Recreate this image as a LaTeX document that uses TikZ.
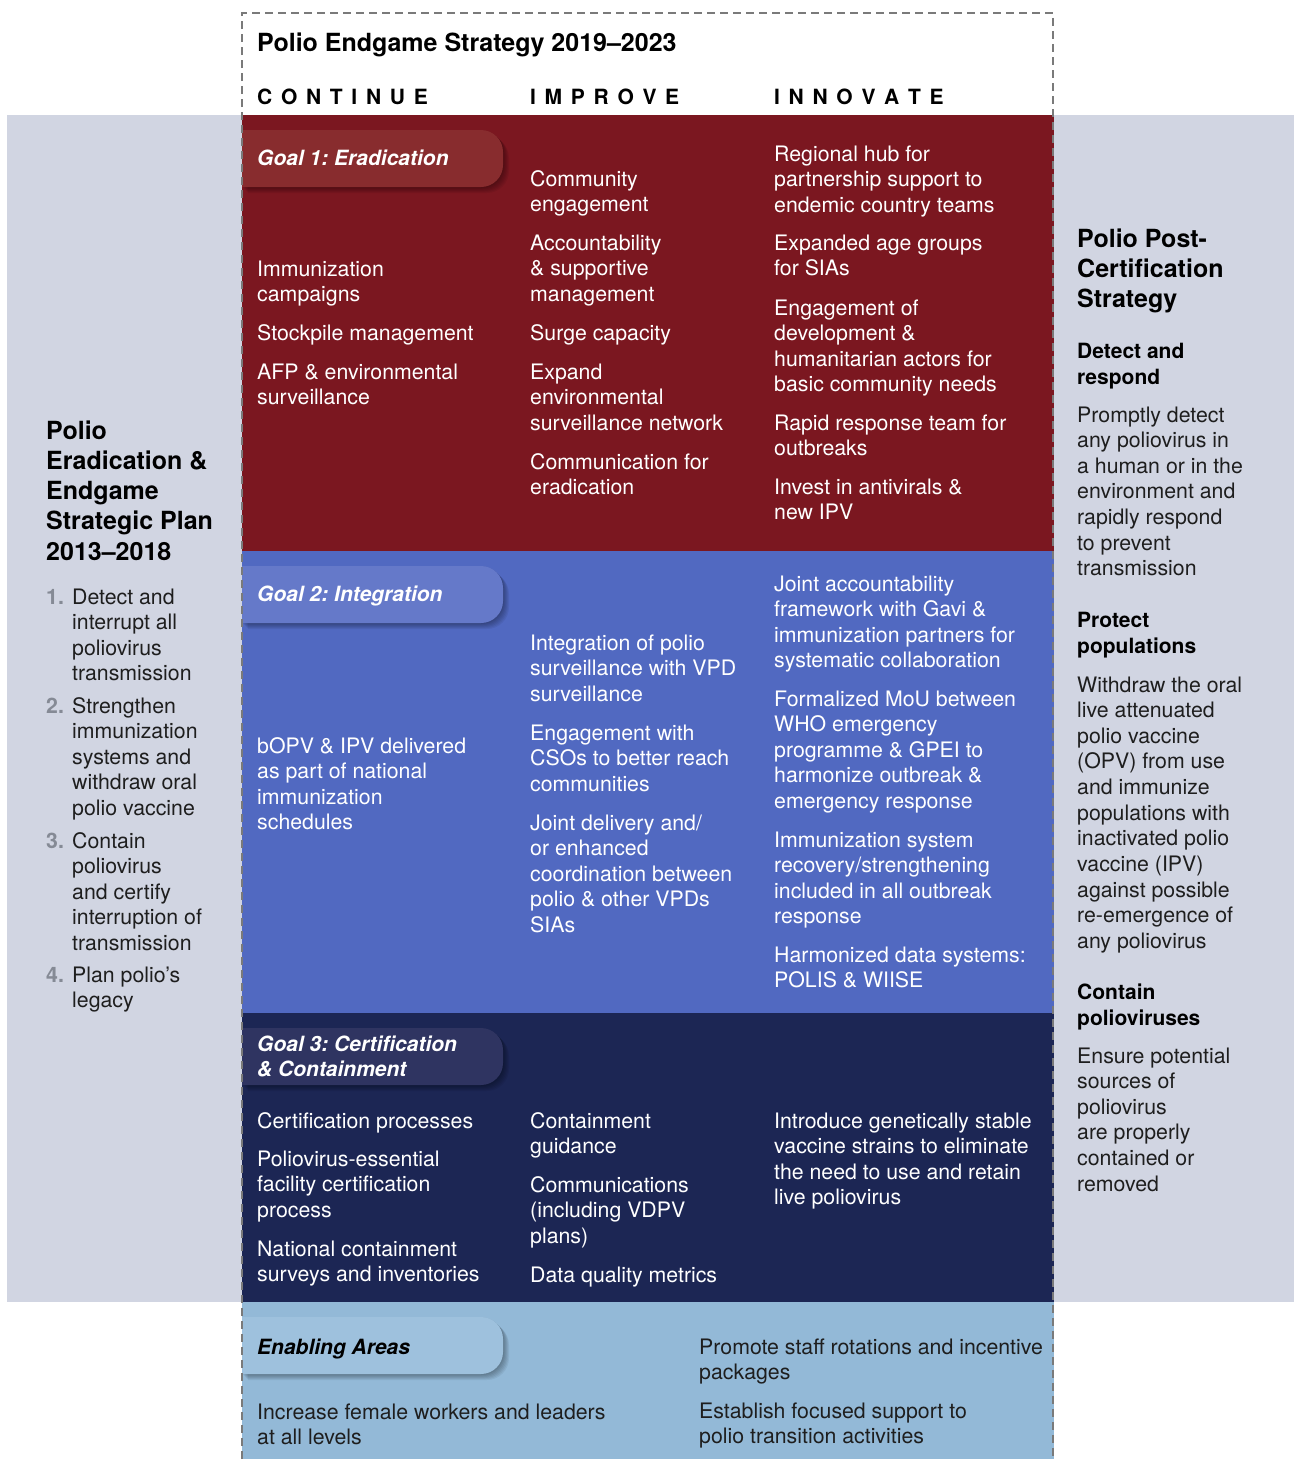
\documentclass[tikz,border=0pt]{standalone}
\usepackage{fontspec}
\setmainfont{TeX Gyre Heros}
\frenchspacing
\definecolor{panelgray}{HTML}{D1D5E2}
\definecolor{bandred}{HTML}{7B1720}
\definecolor{pillred}{HTML}{882C2E}
\definecolor{bandblue}{HTML}{5169C1}
\definecolor{pillblue}{HTML}{6579C9}
\definecolor{bandnavy}{HTML}{1C2654}
\definecolor{pillnavy}{HTML}{2F3461}
\definecolor{bandlight}{HTML}{93B9D7}
\definecolor{pilllight}{HTML}{9EC1DD}
\definecolor{darktext}{HTML}{1E1E1E}
\definecolor{numgray}{HTML}{858A95}
\definecolor{framegray}{HTML}{7A7A7A}
\newcommand\bodyf{\fontsize{21.3}{25.65}\selectfont}
\newcommand\headf{\bfseries\fontsize{25}{30.3}\selectfont}
\newcommand\goalf{\bfseries\itshape\fontsize{21}{25}\selectfont}
\newcommand\subf{\bfseries\fontsize{21}{26}\selectfont}
\newcommand\capf{\bfseries\fontsize{21}{25}\selectfont}
\newcommand\lns[1]{\begin{tabular}[t]{@{}l@{}}#1\end{tabular}}
\newcommand\lsp{\kern8.7pt}
\newcommand\pillpath[1]{(242,#1) -- (481,#1) arc[start angle=-90,end angle=0,radius=22]
    -- (503,{#1+35}) arc[start angle=0,end angle=90,radius=22]
    -- (242,{#1+57}) -- cycle}
\newcommand\pillshape[3]{%
  \begin{scope}
    \clip (242,{#1-10}) rectangle (530,{#1+75});
    \foreach \d in {0,1,2,3,4,5,6}{
      \fill[black, opacity=0.06, xshift=\d pt, yshift=-\d pt] \pillpath{#1};
    }
  \end{scope}
  \fill[#2] \pillpath{#1};
  \coordinate (#3) at (257,{#1+28.5});}
\tikzset{
  body/.style={anchor=base west, inner sep=0pt, font=\bodyf, text=white},
  darkbody/.style={body, text=darktext},
  goal/.style={anchor=base west, inner sep=0pt, font=\goalf, text=white},
  head/.style={anchor=base west, inner sep=0pt, font=\headf, text=black},
  sub/.style={anchor=base west, inner sep=0pt, font=\subf, text=black},
  colhead/.style={anchor=base west, inner sep=0pt, font=\capf, text=black},
  num/.style={anchor=base west, inner sep=0pt, font=\bfseries\bodyf, text=numgray},
}
\begin{document}
\begin{tikzpicture}[x=1pt,y=-1pt]
\useasboundingbox (0,0) rectangle (1294,1459);
% bands
\fill[panelgray] (7,115) rectangle (1294,1302);
\fill[bandred] (242,115) rectangle (1054,551);
\fill[bandblue] (242,551) rectangle (1054,1013);
\fill[bandnavy] (242,1013) rectangle (1054,1302);
\fill[bandlight] (242,1302) rectangle (1054,1459);
% pills
\pillshape{130}{pillred}{p1}
\pillshape{566}{pillblue}{p2}
\pillshape{1028}{pillnavy}{p3}
\pillshape{1317}{pilllight}{p4}
% frame
\draw[framegray, line width=2pt, dash pattern=on 8pt off 5pt]
  (242,1459) -- (242,13) -- (1053,13) -- (1053,1459);
% header
\node[head] (title) at (257,51) {Polio Endgame Strategy 2019–2023};
\node[colhead] (hc) at (257,104) {C\lsp O\lsp N\lsp T\lsp I\lsp N\lsp U\lsp E};
\node[colhead] (hi) at (530,104) {I\lsp M\lsp P\lsp R\lsp O\lsp V\lsp E};
\node[colhead] (hn) at (774,104) {I\lsp N\lsp N\lsp O\lsp V\lsp A\lsp T\lsp E};
% goal 1
\node[goal] (g1) at (257,165.5) {Goal 1: Eradication};
\node[body] (g1c1) at (257,276) {\lns{Immunization\\campaigns}};
\node[body] (g1c2) at (257,340) {\lns{Stockpile management}};
\node[body] (g1c3) at (257,379) {\lns{AFP \& environmental\\surveillance}};
\node[body] (g1i1) at (530,186) {\lns{Community\\engagement}};
\node[body] (g1i2) at (530,250) {\lns{Accountability\\\& supportive\\management}};
\node[body] (g1i3) at (530,340) {\lns{Surge capacity}};
\node[body] (g1i4) at (530,379) {\lns{Expand\\environmental\\surveillance network}};
\node[body] (g1i5) at (530,469) {\lns{Communication for\\eradication}};
\node[body] (g1n1) at (774,161) {\lns{Regional hub for\\partnership support to\\endemic country teams}};
\node[body] (g1n2) at (774,250) {\lns{Expanded age groups\\for SIAs}};
\node[body] (g1n3) at (774,315) {\lns{Engagement of\\development \&\\humanitarian actors for\\basic community needs}};
\node[body] (g1n4) at (774,430) {\lns{Rapid response team for\\outbreaks}};
\node[body] (g1n5) at (774,494) {\lns{Invest in antivirals \&\\new IPV}};
% goal 2
\node[goal] (g2) at (257,601.5) {Goal 2: Integration};
\node[body] (g2c1) at (257,753) {\lns{bOPV \& IPV delivered\\as part of national\\immunization\\schedules}};
\node[body] (g2i1) at (530,650) {\lns{Integration of polio\\surveillance with VPD\\surveillance}};
\node[body] (g2i2) at (530,740) {\lns{Engagement with\\CSOs to better reach\\communities}};
\node[body] (g2i3) at (530,830) {\lns{Joint delivery and/\\or enhanced\\coordination between\\polio \& other VPDs\\SIAs}};
\node[body] (g2n1) at (774,591) {\lns{Joint accountability\\framework with Gavi \&\\immunization partners for\\systematic collaboration}};
\node[body] (g2n2) at (774,706) {\lns{Formalized MoU between\\WHO emergency\\programme \& GPEI to\\harmonize outbreak \&\\emergency response}};
\node[body] (g2n3) at (774,847) {\lns{Immunization system\\recovery/strengthening\\included in all outbreak\\response}};
\node[body] (g2n4) at (774,962) {\lns{Harmonized data systems:\\POLIS \& WIISE}};
% goal 3
\node[goal] (g3) at (257,1051.5) {\lns{Goal 3: Certification\\\& Containment}};
\node[body] (g3c1) at (257,1128) {\lns{Certification processes}};
\node[body] (g3c2) at (257,1166) {\lns{Poliovirus-essential\\facility certification\\process}};
\node[body] (g3c3) at (257,1256) {\lns{National containment\\surveys and inventories}};
\node[body] (g3i1) at (530,1128) {\lns{Containment\\guidance}};
\node[body] (g3i2) at (530,1192) {\lns{Communications\\(including VDPV\\plans)}};
\node[body] (g3i3) at (530,1282) {\lns{Data quality metrics}};
\node[body] (g3n1) at (774,1128) {\lns{Introduce genetically stable\\vaccine strains to eliminate\\the need to use and retain\\live poliovirus}};
% enabling
\node[goal, text=black] (g4) at (257,1354.5) {Enabling Areas};
\node[darkbody] (e1) at (257,1419) {\lns{Increase female workers and leaders\\at all levels}};
\node[darkbody] (e2) at (699,1354) {\lns{Promote staff rotations and incentive\\packages}};
\node[darkbody] (e3) at (699,1418) {\lns{Establish focused support to\\polio transition activities}};
% left panel
\node[head] (lt) at (46,439) {\lns{Polio\\Eradication \&\\Endgame\\Strategic Plan\\2013–2018}};
\node[num] (n1) at (46,604) {1.};
\node[darkbody] (l1) at (72,604) {\lns{Detect and\\interrupt all\\poliovirus\\transmission}};
\node[num] (n2) at (46,713) {2.};
\node[darkbody] (l2) at (72,713) {\lns{Strengthen\\immunization\\systems and\\withdraw oral\\polio vaccine}};
\node[num] (n3) at (46,848) {3.};
\node[darkbody] (l3) at (72,848) {\lns{Contain\\poliovirus\\and certify\\interruption of\\transmission}};
\node[num] (n4) at (46,982) {4.};
\node[darkbody] (l4) at (72,982) {\lns{Plan polio’s\\legacy}};
% right panel
\node[head] (rt) at (1077,247) {\lns{Polio Post-\\Certification\\Strategy}};
\node[sub] (r1h) at (1077,358.5) {\lns{Detect and\\respond}};
\node[darkbody] (r1) at (1077,422) {\lns{Promptly detect\\any poliovirus in\\a human or in the\\environment and\\rapidly respond\\to prevent\\transmission}};
\node[sub] (r2h) at (1077,627.5) {\lns{Protect\\populations}};
\node[darkbody] (r2) at (1077,692) {\lns{Withdraw the oral\\live attenuated\\polio vaccine\\(OPV) from use\\and immunize\\populations with\\inactivated polio\\vaccine (IPV)\\against possible\\re-emergence of\\any poliovirus}};
\node[sub] (r3h) at (1077,999.5) {\lns{Contain\\polioviruses}};
\node[darkbody] (r3) at (1077,1063) {\lns{Ensure potential\\sources of\\poliovirus\\are properly\\contained or\\removed}};
\end{tikzpicture}
\end{document}
